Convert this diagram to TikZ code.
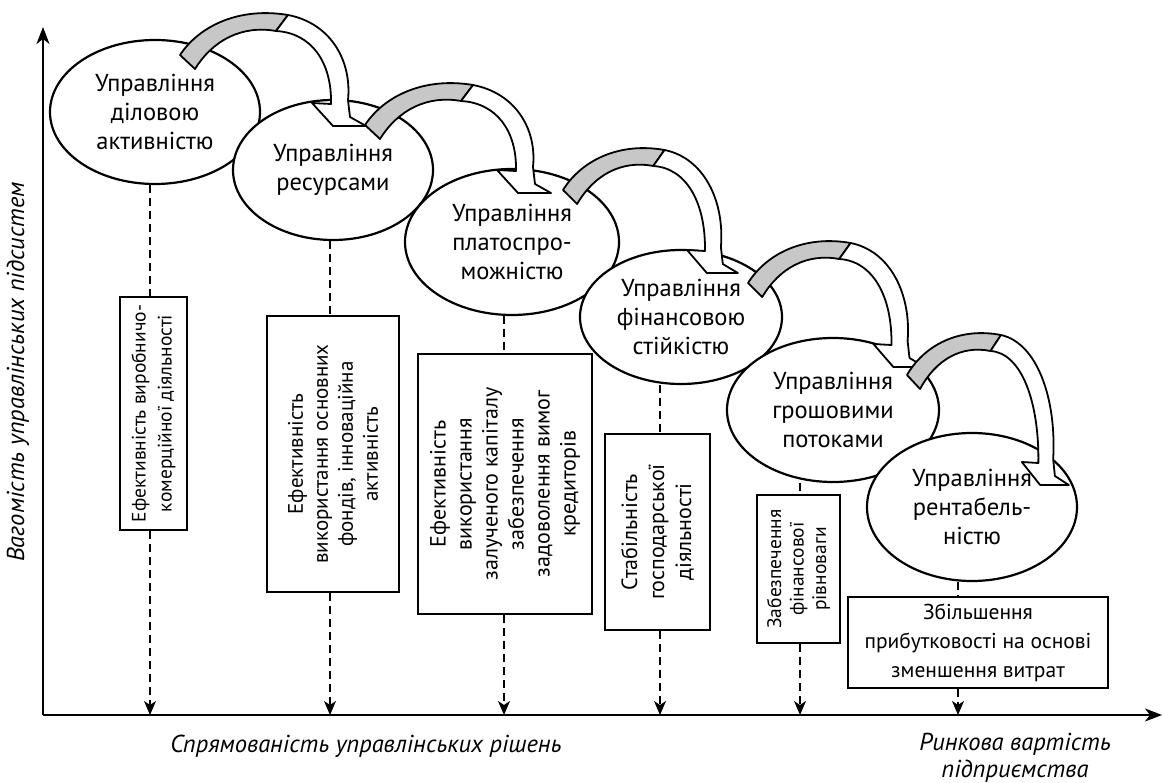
\documentclass[tikz,border=0pt]{standalone}
\usepackage{fontspec}
\setmainfont{PT Sans}
\usetikzlibrary{shapes.geometric,arrows.meta}
\definecolor{ribgray}{gray}{0.78}
\newcommand\myribbon[4]{%
\begin{scope}[shift={(#1,#2)},xscale=#3]
\filldraw[rib,fill=ribgray] (0,0) .. controls (20,-30) and (60,-48) .. (108,-40) -- (96,-24) .. controls (62,-30) and (33,-15) .. (15,14) -- cycle;
\filldraw[rib,fill=white] (108,-40) .. controls (150,-32) and (172,{5+0.5*#4}) .. (168,{45+#4}) -- (170,{62+#4}) -- (186,{71+#4}) -- (153,{71+#4}) -- (132,{48+#4}) -- (151,{49+#4}) .. controls (152,{8+0.5*#4}) and (132,-22) .. (96,-24) -- cycle;
\end{scope}}
\begin{document}
\begin{tikzpicture}[x=1pt,y=-1pt,
 ell/.style={ellipse,draw,line width=2.2pt,fill=white,inner sep=0pt,align=center,font=\fontsize{24.5}{29}\selectfont},
 vbox/.style={draw,line width=2.6pt,fill=white,rotate=90,align=center,inner sep=0pt,font=\fontsize{21}{25}\selectfont},
 hbox/.style={draw,line width=2.6pt,fill=white,align=center,inner sep=0pt,font=\fontsize{21.5}{29}\selectfont},
 dl/.style={dash pattern=on 8pt off 5pt,line width=1.3pt},
 dla/.style={dl,-{Stealth[length=14pt,width=12pt,inset=4pt]}},
 axis/.style={line width=2pt,-{Stealth[length=17pt,width=13pt,inset=5pt]}},
 rib/.style={line width=1.8pt,line join=round},
 lbl/.style={font=\fontsize{24.5}{27}\selectfont\itshape,align=center}]
\useasboundingbox (0,0) rectangle (1163,783);
% axes
\coordinate (O) at (43,715);
\coordinate (Y) at (43,27);
\coordinate (X) at (1162,715);
\draw[axis] (O) -- (Y);
\draw[axis] (O) -- (X);
\node[lbl,rotate=90] (ylab) at (18,372) {Вагомість управлінських підсистем};
\node[lbl] (xlab) at (366,746) {Спрямованість управлінських рішень};
\node[lbl] (vlab) at (1015,758) {Ринкова вартість\\підприємства};
% axis points
\coordinate (p1) at (150,715);
\coordinate (p2) at (330,715);
\coordinate (p3) at (504,715);
\coordinate (p4) at (660,715);
\coordinate (p5) at (800,715);
\coordinate (p6) at (958,715);
% ellipses
\node[ell,minimum width=210,minimum height=144] (E1) at (155,112) {Управління\\діловою\\активністю};
\node[ell,minimum width=200,minimum height=140] (E2) at (333,170) {Управління\\ресурсами};
\node[ell,minimum width=214,minimum height=146] (E3) at (512,242) {Управління\\платоспро-\\можністю};
\node[ell,minimum width=202,minimum height=134] (E4) at (681,317) {Управління\\фінансовою\\стійкістю};
\node[ell,minimum width=212,minimum height=144] (E5) at (833,410) {Управління\\грошовими\\потоками};
\node[ell,minimum width=210,minimum height=148] (E6) at (972,507) {Управління\\рентабель-\\ністю};
% boxes
\node[vbox,minimum width=233,minimum height=67,font=\fontsize{19.5}{26}\selectfont] (B1) at (153.5,413.5) {Ефективність виробничо-\\комерційної діяльності};
\node[vbox,minimum width=276,minimum height=132] (B2) at (333,454) {Ефективність\\використання основних\\фондів, інноваційна\\активність};
\node[vbox,minimum width=260,minimum height=174,font=\fontsize{22}{26}\selectfont] (B3) at (505,484) {Ефективність\\використання\\залученого капіталу\\забезпечення\\задоволення вимог\\кредиторів};
\node[vbox,minimum width=196,minimum height=105,font=\fontsize{22}{27}\selectfont] (B4) at (657.5,532) {Стабільність\\господарської\\діяльності};
\node[vbox,minimum width=148,minimum height=83,font=\fontsize{19.5}{22.5}\selectfont] (B5) at (798.5,569) {Забезпечення\\фінансової\\рівноваги};
\node[hbox,minimum width=260,minimum height=91] (B6) at (978,642.5) {Збільшення\\прибутковості на основі\\зменшення витрат};
% connectors
\draw[dl] (p1 |- E1.south) -- (p1 |- B1.east);
\draw[dla] (p1 |- B1.west) -- (p1);
\draw[dl] (p2 |- E2.south) -- (p2 |- B2.east);
\draw[dla] (p2 |- B2.west) -- (p2);
\draw[dl] (p3 |- E3.south) -- (p3 |- B3.east);
\draw[dla] (p3 |- B3.west) -- (p3);
\draw[dl] (p4 |- E4.south) -- (p4 |- B4.east);
\draw[dla] (p4 |- B4.west) -- (p4);
\draw[dl] (p5 |- E5.south) -- (p5 |- B5.east);
\draw[dla] (p5 |- B5.west) -- (p5);
\draw[dl] (p6 |- E6.south) -- (p6 |- B6.north);
\draw[dla] (p6 |- B6.south) -- (p6);
% ribbon arrows
\myribbon{180}{55}{1}{0}
\myribbon{365}{125}{1}{-3}
\myribbon{563}{190}{0.94}{12}
\myribbon{748}{283}{0.95}{13}
\myribbon{907}{375}{0.87}{39}
\end{tikzpicture}
\end{document}
